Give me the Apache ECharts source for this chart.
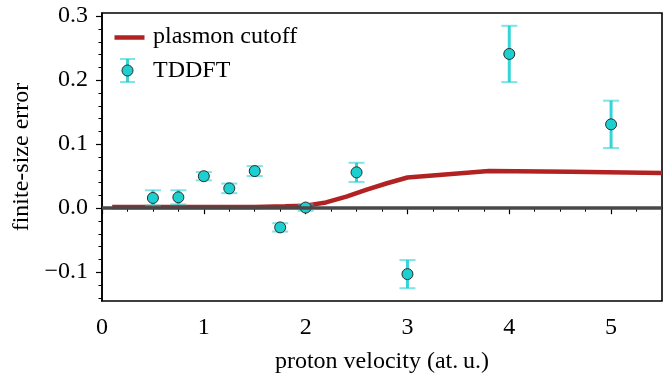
<!DOCTYPE html>
<html>
<head>
<meta charset="utf-8">
<script src="https://cdn.jsdelivr.net/npm/echarts@6/dist/echarts.min.js"></script>
<style>
html,body{margin:0;padding:0;background:#fff;}
#chart{width:670px;height:379px;}
</style>
</head>
<body>
<div id="chart"></div>
<script>
// ---- data ----
const plasmonV = [0.1, 0.5, 1.0, 1.5, 1.8, 2.0, 2.2, 2.4, 2.6, 2.8, 3.0, 3.8, 4.6, 5.5];
const plasmonErr = [0.002, 0.002, 0.002, 0.002, 0.003, 0.004, 0.009, 0.018, 0.029, 0.039, 0.048, 0.058, 0.057, 0.055];

const tddftV = [0.5, 0.75, 1.0, 1.25, 1.5, 1.75, 2.0, 2.5, 3.0, 4.0, 5.0];
const tddftErr = [0.016, 0.017, 0.050, 0.031, 0.058, -0.030, 0.001, 0.056, -0.103, 0.241, 0.131];
const tddftSigma = [0.012, 0.011, 0.0065, 0.0075, 0.0078, 0.0065, 0.005, 0.015, 0.022, 0.044, 0.037];

const xMajorTicks = [0, 1, 2, 3, 4, 5];
const xMinorTicks = [0.25,0.5,0.75,1.25,1.5,1.75,2.25,2.5,2.75,3.25,3.5,3.75,4.25,4.5,4.75,5.25];
const yMajorTicks = [-0.1, 0.0, 0.1, 0.2, 0.3];
const yMinorTicks = [-0.14,-0.12,-0.08,-0.06,-0.04,-0.02,0.02,0.04,0.06,0.08,0.12,0.14,0.16,0.18,0.22,0.24,0.26,0.28];

const xLabel = 'proton velocity (at.\u2009u.)';
const yLabel = 'finite-size error';
const legendNames = ['plasmon cutoff', 'TDDFT'];

// ---- chart ----
const FONT = 'Liberation Serif';
const FS = 24;
const RED = '#b22222';
const CYAN = '#1ccfd0';
const chart = echarts.init(document.getElementById('chart'), null, {renderer: 'canvas'});

const errData = tddftV.map((v, i) => [v, tddftErr[i] - tddftSigma[i], tddftErr[i] + tddftSigma[i]]);
const ptData = tddftV.map((v, i) => [v, tddftErr[i]]);
const lineData = plasmonV.map((v, i) => [v, plasmonErr[i]]);

const baseX = {type: 'value', min: 0, max: 5.5, position: 'bottom', splitLine: {show: false}};
const baseY = {type: 'value', min: -0.145, max: 0.305, position: 'left', splitLine: {show: false}};

const option = {
  animation: false,
  backgroundColor: '#fff',
  grid: {left: 102, right: 8, top: 13, bottom: 76, show: true, borderColor: '#000', borderWidth: 1.6, containLabel: false},
  xAxis: [
    Object.assign({}, baseX, {
      axisLine: {show: true, lineStyle: {color: '#000', width: 1.6}},
      axisTick: {show: true, inside: false, length: 6, lineStyle: {color: '#000', width: 1.2}, customValues: xMajorTicks},
      axisLabel: {show: true, customValues: xMajorTicks, margin: 15, color: '#000', fontFamily: FONT, fontSize: FS,
        formatter: v => String(Math.round(v))},
      name: xLabel, nameLocation: 'middle', nameGap: 49,
      nameTextStyle: {color: '#000', fontFamily: FONT, fontSize: FS}
    }),
    Object.assign({}, baseX, {
      axisLine: {show: false},
      axisTick: {show: true, inside: false, length: 3.5, lineStyle: {color: '#000', width: 1}, customValues: xMinorTicks},
      axisLabel: {show: false}
    })
  ],
  yAxis: [
    Object.assign({}, baseY, {
      axisLine: {show: true, lineStyle: {color: '#000', width: 1.6}},
      axisTick: {show: true, inside: false, length: 6, lineStyle: {color: '#000', width: 1.2}, customValues: yMajorTicks},
      axisLabel: {show: true, customValues: yMajorTicks, margin: 14, color: '#000', fontFamily: FONT, fontSize: FS,
        formatter: v => (v < -1e-9 ? '\u2212' : '') + Math.abs(v).toFixed(1)},
      name: yLabel, nameLocation: 'middle', nameGap: 68, nameRotate: 90,
      nameTextStyle: {color: '#000', fontFamily: FONT, fontSize: FS}
    }),
    Object.assign({}, baseY, {
      axisLine: {show: false},
      axisTick: {show: true, inside: false, length: 3.5, lineStyle: {color: '#000', width: 1}, customValues: yMinorTicks},
      axisLabel: {show: false}
    })
  ],
  series: [
    {
      type: 'line', name: 'zero', data: [], z: 1, silent: true,
      markLine: {silent: true, symbol: ['none', 'none'], label: {show: false},
        lineStyle: {color: '#484848', width: 3.5, type: 'solid'}, data: [{yAxis: 0}]}
    },
    {
      type: 'line', name: legendNames[0], data: lineData, z: 2, showSymbol: false, symbol: 'none',
      lineStyle: {color: RED, width: 4.5}, itemStyle: {color: RED}
    },
    {
      type: 'custom', name: 'errbar', data: errData, z: 3,
      renderItem: function (params, api) {
        const x = api.value(0);
        const lo = api.coord([x, api.value(1)]);
        const hi = api.coord([x, api.value(2)]);
        const hw = 8;
        return {type: 'group', children: [
          {type: 'line', shape: {x1: lo[0], y1: lo[1], x2: hi[0], y2: hi[1]}, style: {stroke: 'rgba(20,205,208,0.85)', lineWidth: 3}},
          {type: 'line', shape: {x1: hi[0] - hw, y1: hi[1], x2: hi[0] + hw, y2: hi[1]}, style: {stroke: 'rgba(20,205,208,0.55)', lineWidth: 2}},
          {type: 'line', shape: {x1: lo[0] - hw, y1: lo[1], x2: lo[0] + hw, y2: lo[1]}, style: {stroke: 'rgba(20,205,208,0.55)', lineWidth: 2}}
        ]};
      }
    },
    {
      type: 'scatter', name: legendNames[1], data: ptData, z: 4, symbol: 'circle', symbolSize: 11,
      itemStyle: {color: CYAN, borderColor: '#2b2b2b', borderWidth: 1, opacity: 1}
    }
  ],
  graphic: [
    {type: 'line', left: 112, top: 35, shape: {x1: 0, y1: 0, x2: 30, y2: 0}, style: {stroke: RED, lineWidth: 4.5}, z: 10},
    {type: 'text', left: 153, top: 25, style: {text: legendNames[0], fill: '#000', font: FS + 'px "' + FONT + '"'}, z: 10},
    {type: 'line', shape: {x1: 127.5, y1: 59, x2: 127.5, y2: 82}, style: {stroke: 'rgba(20,205,208,0.85)', lineWidth: 3}, z: 10},
    {type: 'line', shape: {x1: 120, y1: 59, x2: 135, y2: 59}, style: {stroke: 'rgba(20,205,208,0.55)', lineWidth: 2}, z: 10},
    {type: 'line', shape: {x1: 120, y1: 82, x2: 135, y2: 82}, style: {stroke: 'rgba(20,205,208,0.55)', lineWidth: 2}, z: 10},
    {type: 'circle', shape: {cx: 127.5, cy: 70.5, r: 5.5}, style: {fill: CYAN, stroke: '#2b2b2b', lineWidth: 1}, z: 11},
    {type: 'text', left: 153, top: 59, style: {text: legendNames[1], fill: '#000', font: FS + 'px "' + FONT + '"'}, z: 10}
  ]
};
chart.setOption(option);
</script>
</body>
</html>
